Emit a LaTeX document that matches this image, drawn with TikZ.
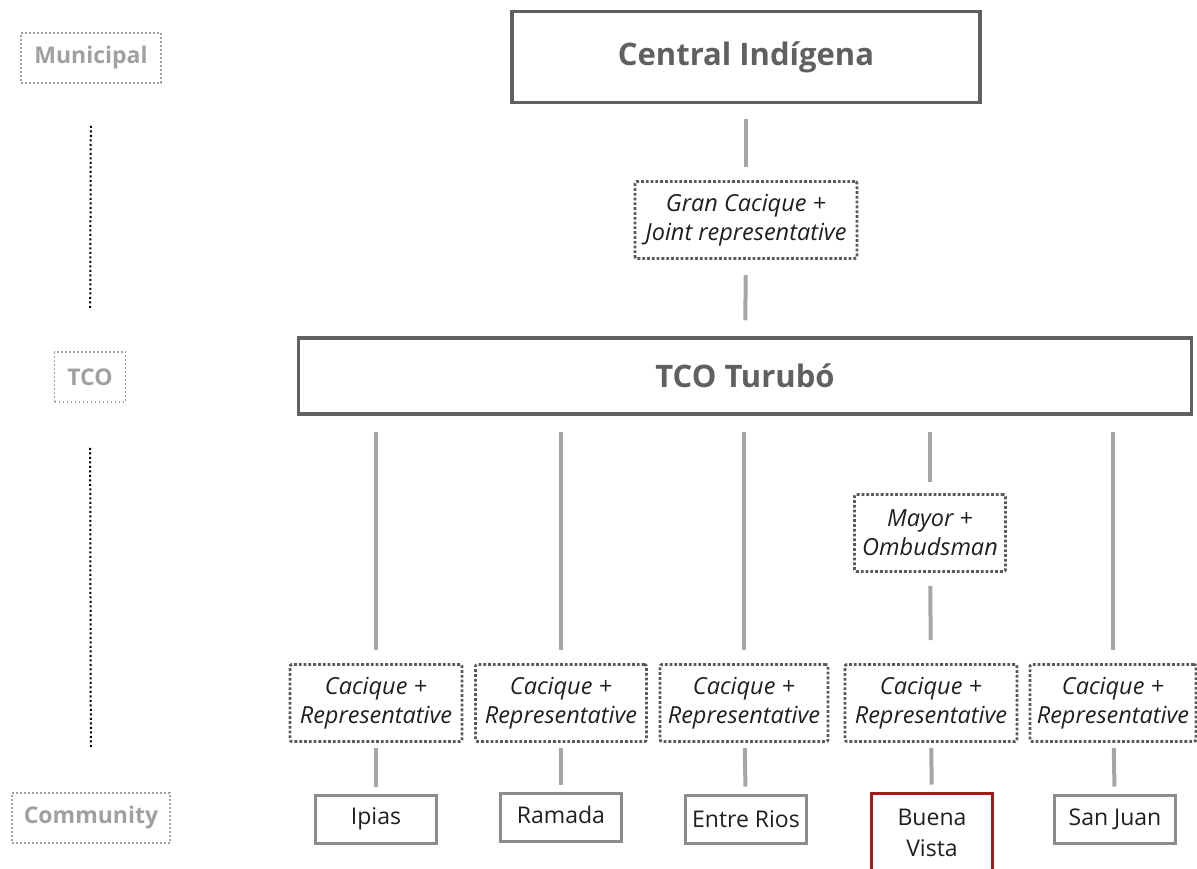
\documentclass[tikz,border=0pt]{standalone}
\usepackage{fontspec}
\setmainfont{Open Sans}

\definecolor{boxgray}{HTML}{606060}
\definecolor{commgray}{HTML}{8C8C8C}
\definecolor{lvlgray}{HTML}{A0A0A0}
\definecolor{linkgray}{HTML}{A6A6A6}
\definecolor{dotgray}{HTML}{5A5A5A}
\definecolor{bvred}{HTML}{A31A1A}

\begin{document}
\begin{tikzpicture}[x=1pt,y=-1pt]

      \useasboundingbox (0,0) rectangle (1197,869);

      % levels on the left
      \begin{scope}[every node/.style={draw=lvlgray,dash pattern=on 1.6pt off 2.4pt,line width=1.6pt,text=lvlgray,
          font=\bfseries\fontsize{23}{26}\selectfont,inner sep=0pt,minimum height=50pt}]
        \node (mun)  at (91,58)  [minimum width=140pt] {Municipal};
        \node (tco)  at (90,377) [minimum width=71pt]  {TCO};
        \node (comm) at (91,818) [minimum width=158pt] {Community};
      \end{scope}

      \begin{scope}[every edge/.style={draw,dash pattern=on 2pt off 2.5pt,line width=2pt}]
        \path (mun) edge[shorten <=42pt,shorten >=41pt] (tco);
        \path (tco) edge[shorten <=45pt,shorten >=44pt] (comm);
      \end{scope}

      % main boxes
      \begin{scope}[every node/.style={draw=boxgray,line width=3.5pt,text=boxgray,
          font=\bfseries\fontsize{31}{34}\selectfont,inner sep=0pt}]
        \node (central) at (746,57)  [minimum width=468pt,minimum height=91pt] {Central Indígena};
        \node (turubo)  at (745,376) [minimum width=893pt,minimum height=76pt] {TCO Turubó};
      \end{scope}

      % representatives
      \begin{scope}[every node/.style={draw=dotgray,dash pattern=on 2.8pt off 2pt,line width=2.8pt,
          rounded corners=2pt,text=black!88,
          font=\itshape\fontsize{23.5}{29}\selectfont,align=center,inner sep=0pt,
          minimum height=77pt}]
        \node (gran)  at (746,220) [minimum width=222pt] {Gran Cacique +\\Joint representative};
        \node (mayor) at (930,533) [minimum width=151pt] {Mayor +\\Ombudsman};
        \node (c1) at (376,703)  [minimum width=172pt] {Cacique +\\Representative};
        \node (c2) at (561,703)  [minimum width=171pt] {Cacique +\\Representative};
        \node (c3) at (744,703)  [minimum width=168pt] {Cacique +\\Representative};
        \node (c4) at (931,703)  [minimum width=172pt] {Cacique +\\Representative};
        \node (c5) at (1113,703) [minimum width=166pt] {Cacique +\\Representative};
      \end{scope}

      % communities
      \begin{scope}[every node/.style={draw=commgray,line width=3pt,text=black!88,
          font=\fontsize{23}{31}\selectfont,align=center,inner sep=0pt,
          minimum width=121pt,minimum height=48pt}]
        \node (ipias)  at (376,819)  {Ipias};
        \node (ramada) at (561,817)  [text height=14pt] {Ramada};
        \node (entre)  at (746,819)  {Entre Rios};
        \node (buena)  at (932,833)  [draw=bvred,minimum height=80pt] {Buena\\Vista};
        \node (sanjuan) at (1115,819) {San Juan};
      \end{scope}

      \begin{scope}[every edge/.style={draw=linkgray,line width=4pt}]
        \path (central) edge[shorten <=15pt,shorten >=13pt] (gran);
        \path (gran)    edge[shorten <=15pt,shorten >=16pt] (turubo);
        \path (turubo.south -| c1) edge[shorten <=16pt,shorten >=13pt] (c1);
        \path (turubo.south -| c2) edge[shorten <=16pt,shorten >=13pt] (c2);
        \path (turubo.south -| c3) edge[shorten <=16pt,shorten >=13pt] (c3);
        \path (turubo.south -| mayor) edge[shorten <=16pt,shorten >=11pt] (mayor);
        \path (mayor)   edge[shorten <=13pt,shorten >=23pt] (c4);
        \path (turubo.south -| c5) edge[shorten <=16pt,shorten >=13pt] (c5);
        \path (c1) edge[shorten <=5pt,shorten >=7pt] (ipias);
        \path (c2) edge[shorten <=5pt,shorten >=7pt] (ramada);
        \path (c3) edge[shorten <=5pt,shorten >=7pt] (entre);
        \path (c4) edge[shorten <=5pt,shorten >=7pt] (buena);
        \path (c5) edge[shorten <=5pt,shorten >=7pt] (sanjuan);
      \end{scope}

    \end{tikzpicture}
\end{document}
